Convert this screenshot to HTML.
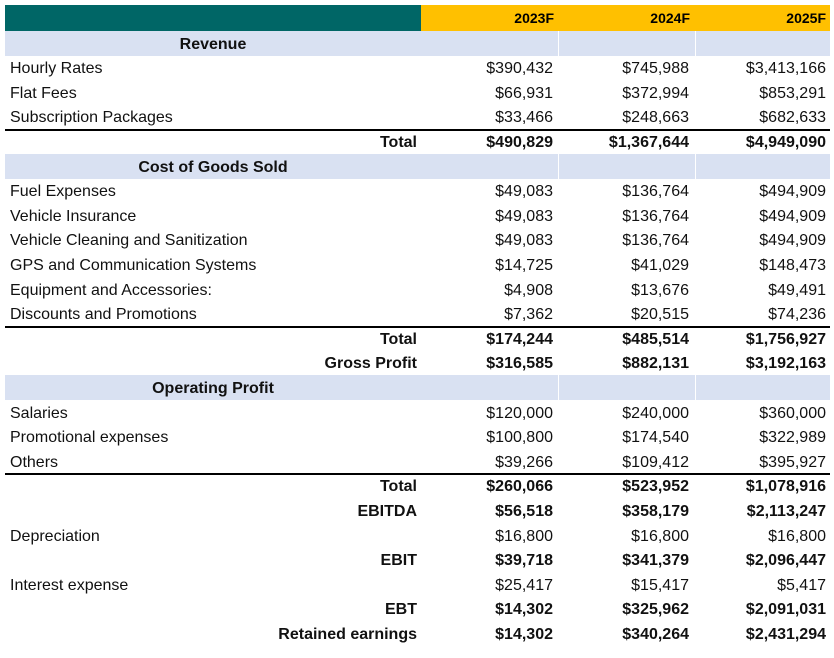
<!DOCTYPE html>
<html><head><meta charset="utf-8"><style>
body{margin:0;width:834px;height:658px;background:#fff;position:relative;font-family:"Liberation Sans",Arial,sans-serif;font-size:16px;color:#111;overflow:hidden}
.r{position:absolute;left:5px;width:825px;height:24.6px;line-height:24.6px}
.r span{position:absolute;top:1.5px;white-space:nowrap}
.l{left:5px}
.c1{right:277px}.c2{right:141px}.c3{right:4px}
.t{right:413px;font-weight:bold}
.b span{font-weight:bold}
.band{background:#d9e1f2}
.band .h{left:0;width:416px;text-align:center;font-weight:bold}
.sep{position:absolute;top:0;bottom:0;width:1px;background:#fff}
.line{position:absolute;left:5px;width:825px;height:2px;background:#000}
</style></head><body>
<div style="position:absolute;left:5px;top:5px;width:416px;height:26px;background:#006666"></div>
<div style="position:absolute;left:421px;top:5px;width:409px;height:26px;background:#ffc000;font-weight:bold;font-size:14px;line-height:26px;color:#000">
<span style="position:absolute;right:276px">2023F</span><span style="position:absolute;right:140px">2024F</span><span style="position:absolute;right:4px">2025F</span></div>

<div class="r band" style="top:31px"><span class="h">Revenue</span><div class="sep" style="left:553px"></div><div class="sep" style="left:690px"></div></div>
<div class="r" style="top:55.6px"><span class="l">Hourly Rates</span><span class="c1">$390,432</span><span class="c2">$745,988</span><span class="c3">$3,413,166</span></div>
<div class="r" style="top:80.2px"><span class="l">Flat Fees</span><span class="c1">$66,931</span><span class="c2">$372,994</span><span class="c3">$853,291</span></div>
<div class="r" style="top:104.8px"><span class="l">Subscription Packages</span><span class="c1">$33,466</span><span class="c2">$248,663</span><span class="c3">$682,633</span></div>
<div class="line" style="top:128.5px"></div>
<div class="r b" style="top:129.4px"><span class="t">Total</span><span class="c1">$490,829</span><span class="c2">$1,367,644</span><span class="c3">$4,949,090</span></div>
<div class="r band" style="top:154px"><span class="h">Cost of Goods Sold</span><div class="sep" style="left:553px"></div><div class="sep" style="left:690px"></div></div>
<div class="r" style="top:178.6px"><span class="l">Fuel Expenses</span><span class="c1">$49,083</span><span class="c2">$136,764</span><span class="c3">$494,909</span></div>
<div class="r" style="top:203.2px"><span class="l">Vehicle Insurance</span><span class="c1">$49,083</span><span class="c2">$136,764</span><span class="c3">$494,909</span></div>
<div class="r" style="top:227.8px"><span class="l">Vehicle Cleaning and Sanitization</span><span class="c1">$49,083</span><span class="c2">$136,764</span><span class="c3">$494,909</span></div>
<div class="r" style="top:252.4px"><span class="l">GPS and Communication Systems</span><span class="c1">$14,725</span><span class="c2">$41,029</span><span class="c3">$148,473</span></div>
<div class="r" style="top:277px"><span class="l">Equipment and Accessories:</span><span class="c1">$4,908</span><span class="c2">$13,676</span><span class="c3">$49,491</span></div>
<div class="r" style="top:301.6px"><span class="l">Discounts and Promotions</span><span class="c1">$7,362</span><span class="c2">$20,515</span><span class="c3">$74,236</span></div>
<div class="line" style="top:325.5px"></div>
<div class="r b" style="top:326.2px"><span class="t">Total</span><span class="c1">$174,244</span><span class="c2">$485,514</span><span class="c3">$1,756,927</span></div>
<div class="r b" style="top:350.8px"><span class="t">Gross Profit</span><span class="c1">$316,585</span><span class="c2">$882,131</span><span class="c3">$3,192,163</span></div>
<div class="r band" style="top:375.4px"><span class="h">Operating Profit</span><div class="sep" style="left:553px"></div><div class="sep" style="left:690px"></div></div>
<div class="r" style="top:400px"><span class="l">Salaries</span><span class="c1">$120,000</span><span class="c2">$240,000</span><span class="c3">$360,000</span></div>
<div class="r" style="top:424.6px"><span class="l">Promotional expenses</span><span class="c1">$100,800</span><span class="c2">$174,540</span><span class="c3">$322,989</span></div>
<div class="r" style="top:449.2px"><span class="l">Others</span><span class="c1">$39,266</span><span class="c2">$109,412</span><span class="c3">$395,927</span></div>
<div class="line" style="top:473px"></div>
<div class="r b" style="top:473.8px"><span class="t">Total</span><span class="c1">$260,066</span><span class="c2">$523,952</span><span class="c3">$1,078,916</span></div>
<div class="r b" style="top:498.4px"><span class="t">EBITDA</span><span class="c1">$56,518</span><span class="c2">$358,179</span><span class="c3">$2,113,247</span></div>
<div class="r" style="top:523px"><span class="l">Depreciation</span><span class="c1">$16,800</span><span class="c2">$16,800</span><span class="c3">$16,800</span></div>
<div class="r b" style="top:547.6px"><span class="t">EBIT</span><span class="c1">$39,718</span><span class="c2">$341,379</span><span class="c3">$2,096,447</span></div>
<div class="r" style="top:572.2px"><span class="l">Interest expense</span><span class="c1">$25,417</span><span class="c2">$15,417</span><span class="c3">$5,417</span></div>
<div class="r b" style="top:596.8px"><span class="t">EBT</span><span class="c1">$14,302</span><span class="c2">$325,962</span><span class="c3">$2,091,031</span></div>
<div class="r b" style="top:621.4px"><span class="t">Retained earnings</span><span class="c1">$14,302</span><span class="c2">$340,264</span><span class="c3">$2,431,294</span></div>
</body></html>
